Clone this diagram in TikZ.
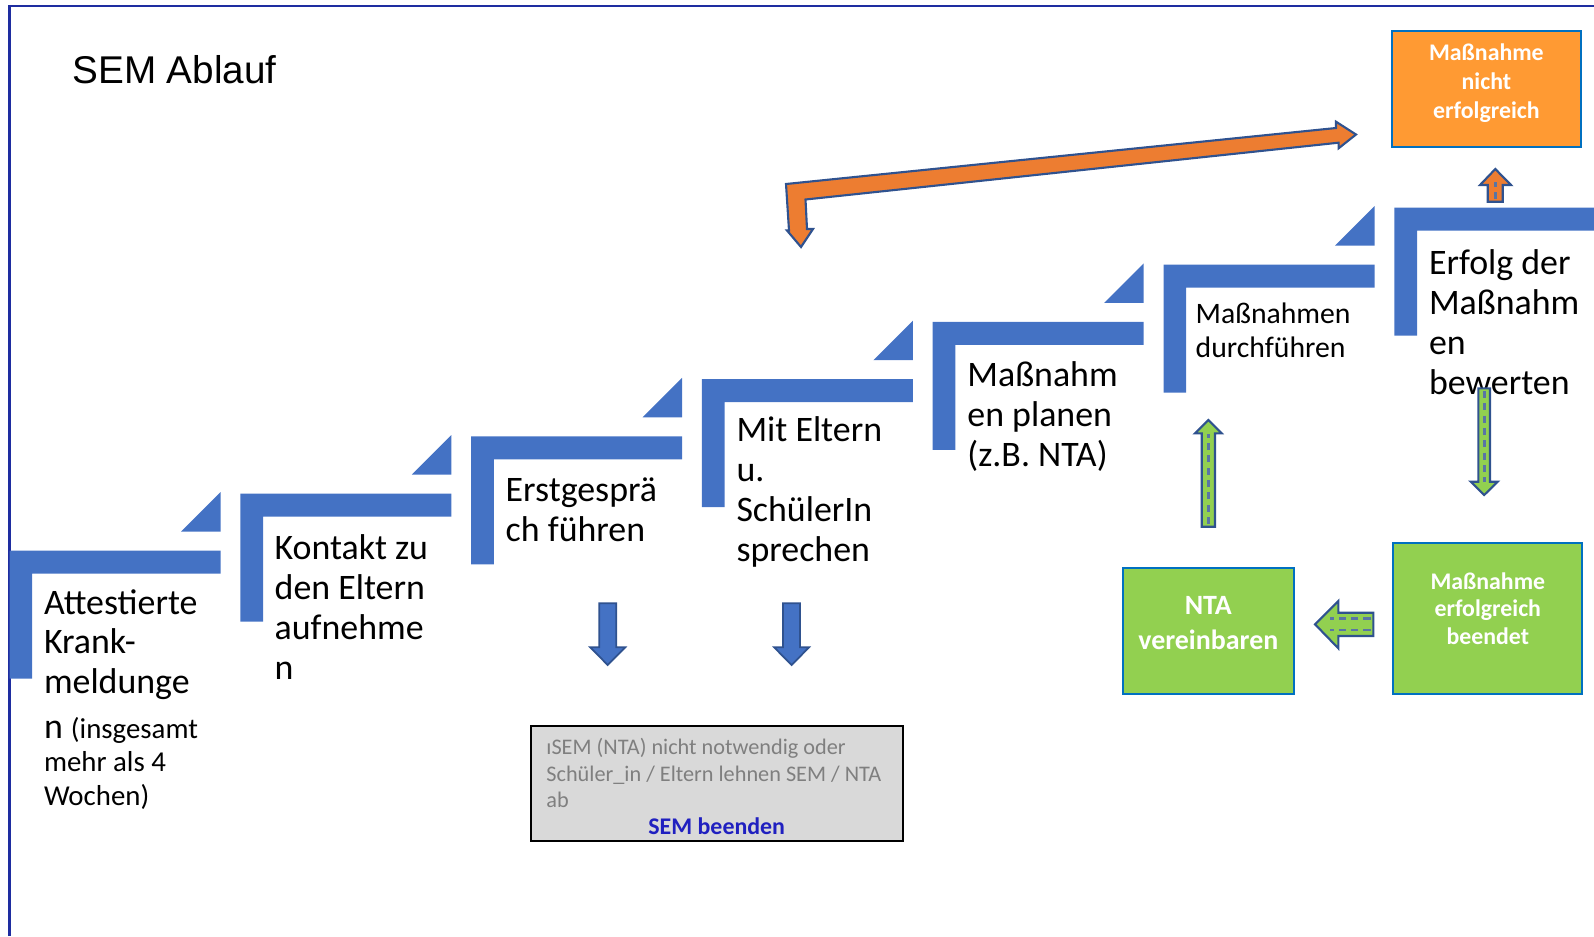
\documentclass[tikz,border=0pt]{standalone}
\usepackage{fontspec}
\setmainfont{Carlito}
\newfontfamily\titlefont{Liberation Sans}
\definecolor{frameblue}{RGB}{30,45,160}
\definecolor{stepblue}{RGB}{68,114,196}
\definecolor{edgeblue}{RGB}{47,82,143}
\definecolor{boxgreen}{RGB}{146,208,80}
\definecolor{boxedge}{RGB}{0,112,192}
\definecolor{boxorange}{RGB}{255,154,51}
\definecolor{arroworange}{RGB}{237,125,49}
\definecolor{greybox}{RGB}{217,217,217}
\definecolor{greytext}{RGB}{127,127,127}
\definecolor{endblue}{RGB}{32,32,192}
\newcommand\smalltext{\fontsize{8.2}{9.4}\selectfont}
\tikzset{
	steptext/.style={anchor=base west,align=left,inner sep=0pt,font=\fontsize{10.2}{11.3}\selectfont},
	boxtext/.style={align=center,inner sep=0pt,text=white,font=\bfseries\fontsize{6.78}{7.8}\selectfont},
	greenbox/.style={draw=boxedge,fill=boxgreen,line width=0.6pt,inner sep=0pt},
	orangebox/.style={draw=boxedge,fill=boxorange,line width=0.6pt,inner sep=0pt},
	bluearrow/.style={fill=stepblue,draw=edgeblue,line width=0.5pt},
	greenarrow/.style={fill=boxgreen,draw=edgeblue,line width=0.6pt},
	texture/.style={draw=edgeblue!80,line width=0.8pt,dash pattern=on 2pt off 1.5pt}
}
\begin{document}
\begin{tikzpicture}[x=0.01cm,y=-0.01cm]
	\useasboundingbox (0,0) rectangle (1594,936);
	%%%%%%%%%%%%%%%%%%%
	%      frame      %
	%%%%%%%%%%%%%%%%%%%
		\draw[frameblue,line width=0.6pt] (9.5,936) -- (9.5,6) -- (1594,6);
		\node[anchor=base west,inner sep=0pt,font=\titlefont\fontsize{11}{13}\selectfont] (title) at (71.7,83.3) {SEM Ablauf};
	%%%%%%%%%%%%%%%%%%%
	%     steps       %
	%%%%%%%%%%%%%%%%%%%
		\def\dx{230.8}
		\def\dy{57.2}
		\def\barW{211}
		\def\barH{23}
		\def\legW{22.7}
		\def\legH{128}
		\def\tri{39.5}
		% bar and leg
		\foreach \i in {0,...,6}
			{
				\pgfmathsetmacro\sx{9.5+\i*\dx}
				\pgfmathsetmacro\sy{550.7-\i*\dy}
				\fill[stepblue] (\sx,\sy) -- ++(\barW,0) -- ++(0,\barH) -- (\sx+\legW,\sy+\barH) -- (\sx+\legW,\sy+\legH) -- (\sx,\sy+\legH) -- cycle;
			}
		% corners
		\foreach \i in {0,...,5}
			{
				\pgfmathsetmacro\sx{9.5+\i*\dx}
				\pgfmathsetmacro\sy{550.7-\i*\dy}
				\fill[stepblue] (\sx+\barW,\sy-19) -- ++(-\tri,0) -- ++(\tri,-\tri) -- cycle;
			}
		% labels (placed at the baseline of their last line)
		\node[steptext] (krank) at (43.3,805) {Attestierte\\Krank-\\meldunge\\[1.4pt]n {\smalltext(insgesamt}\\[-1.8pt]{\smalltext mehr als 4}\\[-1.8pt]{\smalltext Wochen)}};
		\node[steptext] (kontakt) at (274,679) {Kontakt zu\\den Eltern\\aufnehme\\n};
		\node[steptext] (erstgespraech) at (505,541.7) {Erstgesprä\\ch führen};
		\node[steptext] (eltern) at (735.8,561) {Mit Eltern\\u.\\SchülerIn\\sprechen};
		\node[steptext] (planen) at (966.7,466) {Maßnahm\\en planen\\(z.B. NTA)};
		\node[steptext,font=\fontsize{8.45}{9.4}\selectfont] (durchfuehren) at (1195,357) {Maßnahmen\\durchführen};
		\node[steptext] (bewerten) at (1428.3,394) {Erfolg der\\Maßnahm\\en\\bewerten};
	%%%%%%%%%%%%%%%%%%%
	%   SEM beenden   %
	%%%%%%%%%%%%%%%%%%%
		\foreach \ax in {607.7,791.6}
			\draw[bluearrow] (\ax-8.5,603.3) -- (\ax+8.5,603.3) -- (\ax+8.5,647.3) -- (\ax+17.5,647.3) -- (\ax,665) -- (\ax-17.5,647.3) -- (\ax-8.5,647.3) -- cycle;
		\node[draw=black,line width=0.6pt,fill=greybox,minimum width=3.72cm,minimum height=1.15cm,inner sep=0pt] (sembox) at (716.7,783.2) {};
		\node[anchor=base west,align=left,inner sep=0pt,text=greytext,font=\fontsize{6.33}{7.55}\selectfont] (semgrund) at (545.7,807.7) {ıSEM (NTA) nicht notwendig oder\\Schüler\_in / Eltern lehnen SEM / NTA\\ab};
		\node[anchor=base,inner sep=0pt,text=endblue,font=\bfseries\fontsize{6.8}{8}\selectfont] (semende) at (716.7,834) {SEM beenden};
	%%%%%%%%%%%%%%%%%%%
	%    outcomes     %
	%%%%%%%%%%%%%%%%%%%
		\node[orangebox,minimum width=1.893cm,minimum height=1.166cm] (nichtbox) at (1486.4,89) {};
		\node[boxtext,font=\bfseries\fontsize{6.78}{8.25}\selectfont,yshift=0.063cm] (nichttext) at (nichtbox.center) {Maßnahme\\nicht\\erfolgreich};
		\node[greenbox,minimum width=1.89cm,minimum height=1.507cm] (erfolgbox) at (1487.8,618.7) {};
		\node[boxtext,yshift=0.1cm] (erfolgtext) at (erfolgbox.center) {Maßnahme\\erfolgreich\\beendet};
		\node[greenbox,minimum width=1.713cm,minimum height=1.263cm] (nta) at (1208.3,630.8) {};
		\node[boxtext,font=\bfseries\fontsize{7.94}{9.7}\selectfont,yshift=0.078cm] (ntatext) at (nta.center) {NTA\\vereinbaren};
		% back to planning
		\draw[fill=arroworange,draw=edgeblue,line width=0.6pt] (786,184) -- (1336,128) -- (1336,121.7) -- (1356,134.5) -- (1338.6,148.3) -- (1338.6,142.7) -- (805.5,199.5) -- (807,229) -- (813,229) -- (801,247) -- (787,230.5) -- (789,230.5) -- cycle;
		% small up
		\draw[fill=arroworange,draw=edgeblue,line width=0.6pt] (1487.7,201.7) -- (1487.7,185) -- (1480,185) -- (1495.3,169) -- (1511,185) -- (1502.7,185) -- (1502.7,201.7) -- cycle;
		\draw[texture] (1495.3,199) -- (1495.3,182);
		% green arrows
		\draw[greenarrow] (1201.7,526.7) -- (1201.7,433.3) -- (1195,433.3) -- (1208.3,420) -- (1221.6,433.3) -- (1215,433.3) -- (1215,526.7) -- cycle;
		\draw[texture] (1208.3,524) -- (1208.3,434);
		\draw[greenarrow] (1478.3,388.3) -- (1490,388.3) -- (1490,481.7) -- (1497.7,481.7) -- (1484.2,495) -- (1470.7,481.7) -- (1478.3,481.7) -- cycle;
		\draw[texture] (1484.2,391) -- (1484.2,482);
		\draw[greenarrow] (1373.3,612.7) -- (1338.3,612.7) -- (1338.3,601) -- (1315,624.3) -- (1338.3,648.3) -- (1338.3,636) -- (1373.3,636) -- cycle;
		\draw[texture] (1370.5,618.5) -- (1330,618.5);
		\draw[texture] (1370.5,630) -- (1330,630);
\end{tikzpicture}
\end{document}
